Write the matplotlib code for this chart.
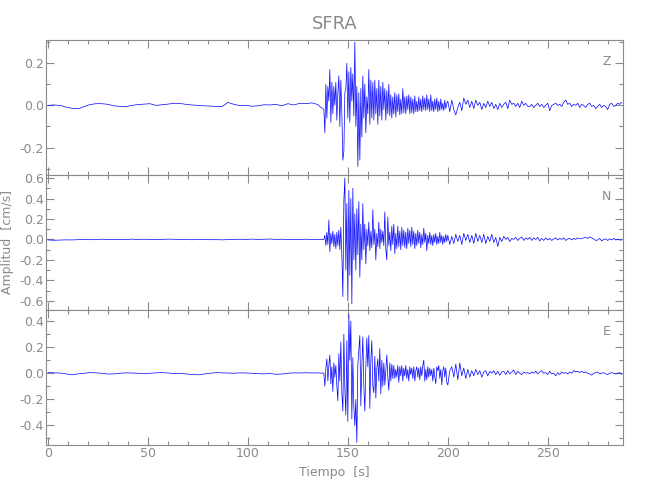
import numpy as np
import matplotlib
matplotlib.use('Agg')
import matplotlib.pyplot as plt
from matplotlib.ticker import MultipleLocator, FormatStrFormatter

# amplitudes em 0.001 cm/s
# pre-evento: passo 3 s desde 0 ; evento: passo 0.5 s desde 136 ; coda: passo 1 s desde 200
z_pre = [0, 2, 0, -8, -14, -16, -6, 4, 8, 8, 5, -2, -5, -6, 0, 4, 6, 8, 0, 3, 6, 10, 9, 5, 2, 0,
         -2, -3, -5, -6, 14, 5, -1, 0, -4, -2, 3, 2, 5, -2, 8, 2, 10, 8, 12, 4]
z_evt = [-5, -10, -12, -15, -20, -130, 100, -60, 90, 20, 170, -80, 110, -40, 90, 0, 110, -70, 60, 140,
         -100, 120, -40, -260, -220, 60, 80, 200, -60, 160, -80, 180, 20, 150, -50, 300, -100, 90, -290, 60,
         -260, 80, -150, 140, -60, 100, -130, 40, -40, 170, -90, 120, -60, 110, -70, 120, -40, 80, -90, 120,
         -50, 90, -70, 110, -20, 80, -70, 70, -40, 100, -50, 50, -60, 40, -40, 60, -55, 50, -30, 55,
         -45, 30, -40, 80, -35, 40, -40, 45, -20, 50, -40, 40, -35, 30, -40, 45, -30, 20, -30, 40,
         -25, 30, -30, 45, -20, 35, -25, 50, -20, 30, -30, 50, -25, 20, -30, 30, -20, 35, -30, 20,
         -25, 30, -20, 10, -25, 25, -15, 10]
z_coda = [20, -30, 25, -20, -45, -10, 15, -25, 35, 5, 25, -10, 20, -15, 25, 0, 15, -20, 10, -10,
          20, -5, 15, -15, 5, -20, 10, -10, 5, 15, -15, 25, 5, 10, -5, 10, -10, 20, 0, 10,
          -5, -5, 5, -10, 0, 10, -5, 5, -10, 0, 10, -25, 0, 5, 10, 0, 5, -5, 15, 25,
          5, 10, -5, 5, 0, 10, -10, 5, 0, -10, 5, 10, -5, 0, -15, -5, 5, -10, 0, -5,
          -20, 5, 10, -5, 0, 10, 5, 15]

n_pre = [-5, -8, -6, -4, -5, -2, 0, -3, 0, 2, 0, -2, 0, -2, 3, 0, 2, 0, -2, 0, 3, 2, 0, -2, -3, -2,
         0, -3, -2, -4, -2, 0, 2, 0, 3, 0, 2, 4, 0, 2, 0, -2, 0, 2, 0, 0]
n_evt = [0, 2, -3, 2, 0, 40, -60, 70, -50, 190, -120, 60, -40, 80, -70, 50, -90, 70, -60, 90,
         -100, 120, -150, -560, 380, 600, -300, 350, -600, 480, -350, 400, -630, 500, -200, 250, -300, 300, -150, 370,
         -370, 150, -200, 350, -100, 150, -240, 100, -60, 170, -110, 80, -80, 290, -50, 100, -200, 60, -70, 170,
         -90, 100, -30, 80, -60, 270, -100, -200, 220, -60, 70, -110, 130, -50, 150, -140, 60, -90, 130, -70,
         80, -100, 120, -60, 90, -80, 70, -90, 110, -40, 90, -70, 120, -50, 80, -90, 60, -60, 90, -40,
         70, -80, 50, -50, 110, -30, 60, -110, 40, -40, 70, -50, 40, -60, 50, -30, 60, -50, 30, -40,
         70, -30, 40, -50, 30, -30, 50, -20]
n_coda = [40, -50, 30, -40, 50, -20, 40, -50, 60, -10, 50, -30, 40, -40, 60, -20, 40, -30, 50, -40,
          30, -20, 50, -30, 20, -70, 20, -20, 30, 0, 20, -20, 10, 0, 20, -10, 10, 25, -10, 15,
          0, 20, -10, 15, 0, 20, -15, 10, -10, 15, -5, 10, -10, 5, 15, -5, 10, 0, 15, -10,
          5, 10, -5, 10, 0, 15, 5, 10, 15, 20, 10, 25, 15, 5, -10, -5, 10, -15, 0, 5,
          -10, 5, -5, 10, -5, 0, -5, -5]

e_pre = [5, 3, 2, -5, -12, -5, 0, 5, 3, 0, -6, -5, 0, 3, 2, 0, -2, 0, 3, 5, 2, -2, 0, -5, -10, -12,
         -6, 0, 5, 3, 2, 0, 3, 2, 0, -3, -5, -2, -8, -6, 0, 3, 2, 4, 2, 3]
e_evt = [2, 0, 3, 2, 0, -100, 40, 110, -60, 60, 140, -80, 50, -140, 80, -30, 60, -100, -210, 150,
         -60, 240, -150, -290, 300, -120, -320, 250, -370, 450, 100, 400, -350, 120, -250, -400, -200, -530, 70, 180,
         290, -250, 60, 280, -100, -290, 50, 270, 50, 290, -270, 100, 250, -100, -150, 130, -190, 40, 110, -60,
         190, -160, 100, -100, 80, -90, 20, 140, -30, -130, 80, -60, 70, -40, 60, -40, 30, -30, 60, -70,
         50, -20, 60, -60, 40, -20, 60, -40, 30, -60, 50, -10, 40, -40, 50, -60, 20, 50, -30, 40,
         -50, 50, -20, 60, 100, -60, 30, -50, 50, -30, 40, -20, 30, -60, 40, -30, -80, 50, 20, 60,
         -40, 30, -90, 20, 50, -30, 40, -70]
e_coda = [-90, 20, 50, -30, 70, -50, 80, -20, 40, -40, 30, -30, 20, -20, 30, -10, 20, -30, 10, 20,
          -20, 15, 0, 20, -10, 15, -15, 10, 15, -10, 20, -5, 10, 25, -10, 15, 0, -10, 10, 0,
          5, -5, 10, 0, 15, -5, 10, 20, 0, 5, -10, 15, -5, 0, -20, 5, -10, 10, 0, 5,
          -5, 10, 0, 20, 10, 15, 5, 15, 5, 10, 0, -5, -15, 0, 5, 10, -5, 0, 5, -5,
          -10, 0, 5, 0, -5, 0, 5, -10]

componentes = ['Z', 'N', 'E']
limites = [(-0.33, 0.31), (-0.69, 0.63), (-0.55, 0.485)]


def serie(pre, evt, coda):
    t = np.concatenate([np.arange(len(pre)) * 3.0,
                        136 + np.arange(len(evt)) * 0.5,
                        200 + np.arange(len(coda)) * 1.0])
    v = np.array(pre + evt + coda) * 0.001
    return t, v


series = [serie(z_pre, z_evt, z_coda), serie(n_pre, n_evt, n_coda), serie(e_pre, e_evt, e_coda)]

cinza = '#8a8a8a'
plt.rcParams['font.family'] = ['DejaVu Sans']
my_dpi = 100
fig, axs = plt.subplots(3, 1, sharex=True, figsize=(650 / my_dpi, 500 / my_dpi), dpi=my_dpi)
fig.subplots_adjust(left=0.0708, right=0.958, top=0.92, bottom=0.11, hspace=0)

for ax, (t, v), comp, lim in zip(axs, series, componentes, limites):
    ax.plot(t, v, color='#0000ff', lw=0.5)
    ax.set_xlim(-1, 287.5)
    ax.set_ylim(*lim)
    ax.xaxis.set_major_locator(MultipleLocator(50))
    ax.xaxis.set_minor_locator(MultipleLocator(10))
    ax.yaxis.set_major_locator(MultipleLocator(0.2))
    ax.yaxis.set_minor_locator(MultipleLocator(0.1))
    ax.yaxis.set_major_formatter(FormatStrFormatter('%.1f'))
    ax.tick_params(which='both', direction='in', top=True, right=True, color=cinza,
                   labelcolor=cinza, labelsize=9, width=0.8)
    ax.tick_params(which='major', length=6, pad=1.5)
    ax.tick_params(which='minor', length=3)
    for s in ax.spines.values():
        s.set_color(cinza)
        s.set_linewidth(0.8)
    ax.text(0.972, 0.84, comp, transform=ax.transAxes, ha='center', va='center',
            color=cinza, fontsize=9)

axs[0].set_title('SFRA', color=cinza, fontsize=13, pad=8)
axs[1].set_ylabel('Amplitud  [cm/s]', color=cinza, fontsize=9, labelpad=4)
axs[2].set_xlabel('Tiempo  [s]', color=cinza, fontsize=9, labelpad=4)

plt.savefig('out.png', dpi=my_dpi)
